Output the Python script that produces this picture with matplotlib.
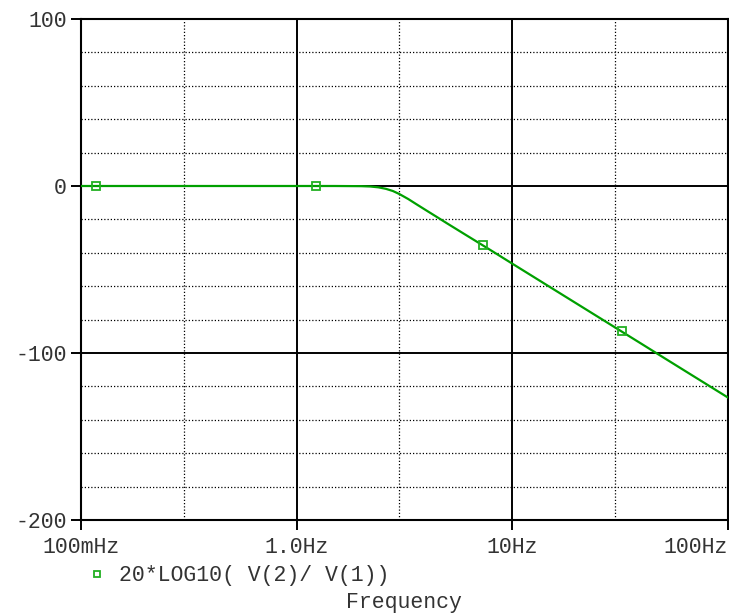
import matplotlib
matplotlib.use('Agg')
import matplotlib.pyplot as plt
from matplotlib.lines import Line2D

# values (frequency in Hz, gain in dB)
freq_hz = [0.1, 0.2, 0.5, 1.0, 1.5, 2.0, 2.2, 2.4, 2.6, 2.8, 3.0, 3.3, 3.6, 4.0,
           4.5, 5.0, 6.0, 7.0, 8.0, 10, 15, 20, 30, 40, 50, 70, 100]
gain_db = [0, 0, 0, 0, 0, -0.1, -0.3, -0.8, -1.7, -3.0, -4.8, -7.8, -10.9, -14.6,
           -18.7, -22.4, -28.7, -34.0, -38.6, -46.4, -60.5, -70.5, -84.6, -94.6,
           -102.4, -114.1, -126.5]
marker_hz = [0.117, 1.23, 7.33, 32.4]
marker_db = [0, 0, -35.5, -87.0]

x_ticks = [0.1, 1, 10, 100]
x_labels = ['100mHz', '1.0Hz', '10Hz', '100Hz']
x_minor = [0.3, 3, 30]
y_ticks = [-200, -100, 0, 100]
y_minor = [-180, -160, -140, -120, -80, -60, -40, -20, 20, 40, 60, 80]
trace_name = '20*LOG10( V(2)/ V(1))'

green = '#00a000'
mark_green = '#22b022'
font = dict(family='Liberation Mono', size=15.5, color='#333333')

fig = plt.figure(figsize=(7.29, 6.13), dpi=100)
ax = fig.add_axes([81 / 729, 93 / 613, 646.5 / 729, 501 / 613])

ax.set_xscale('log')
ax.set_xlim(0.1, 100)
ax.set_ylim(-200, 100)

# grid: solid at major, dotted at minor
for y in y_minor:
    ax.axhline(y, color='black', lw=0.9, ls=(0, (1, 1.6)), zorder=1)
for x in x_minor:
    ax.axvline(x, color='black', lw=0.9, ls=(0, (1, 1.6)), zorder=1)
for y in [-100, 0]:
    ax.axhline(y, color='black', lw=1.4, zorder=1)
for x in [1, 10]:
    ax.axvline(x, color='black', lw=1.4, zorder=1)

ax.plot(freq_hz, gain_db, color=green, lw=1.6, zorder=3)
ax.plot(marker_hz, marker_db, ls='none', marker='s', ms=6, mfc='none',
        mec=mark_green, mew=1.3, zorder=4)

ax.set_xticks(x_ticks, x_labels)
ax.xaxis.set_minor_locator(matplotlib.ticker.NullLocator())
ax.set_yticks(y_ticks, [str(v) for v in y_ticks])
for lab in ax.get_xticklabels() + ax.get_yticklabels():
    lab.set_fontfamily(font['family'])
    lab.set_fontsize(font['size'])
    lab.set_color(font['color'])
ax.get_xticklabels()[-1].set_horizontalalignment('right')
ax.tick_params(axis='both', which='major', direction='out', length=7,
               width=1.4, color='black')
ax.tick_params(axis='x', pad=5)
ax.tick_params(axis='y', pad=3)
for s in ax.spines.values():
    s.set_linewidth(1.5)
    s.set_color('black')

ax.set_xlabel('Frequency', fontfamily=font['family'], fontsize=font['size'],
              color=font['color'], labelpad=25)

handle = Line2D([], [], ls='none', marker='s', ms=5, mfc='none',
                mec=mark_green, mew=1.3)
ax.legend([handle], [trace_name], loc='center left',
          bbox_to_anchor=(80 / 729, 37 / 613), bbox_transform=fig.transFigure,
          frameon=False, handlelength=0.6, handletextpad=0.7, borderpad=0,
          prop=dict(family=font['family'], size=font['size']),
          labelcolor=font['color'])

fig.savefig('out.png', dpi=100)
